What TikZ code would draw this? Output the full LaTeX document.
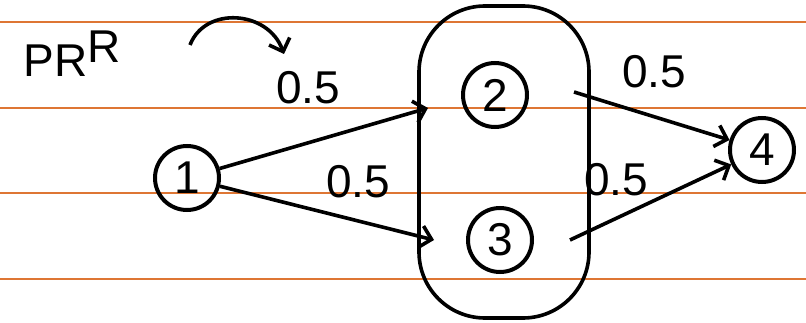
\documentclass[tikz,border=0pt]{standalone}
\usepackage{fontspec}
\setmainfont{Liberation Sans}
\usetikzlibrary{arrows.meta, shapes.geometric}

\definecolor{ruleline}{RGB}{222,118,52}

\tikzset{
  ruled/.style={draw=ruleline, line width=2pt},
  vtx/.style={draw, circle, line width=4pt, minimum size=64pt, inner sep=0pt,
              font=\fontsize{46}{50}\selectfont},
  grpbox/.style={draw, rectangle, rounded corners=66pt, line width=3.6pt,
                 minimum width=170pt, minimum height=312pt},
  wt/.style={font=\fontsize{46}{50}\selectfont},
  link/.style={-{Straight Barb[length=11pt, width=22pt]}, line width=3.6pt}
}

\begin{document}
\begin{tikzpicture}[x=1pt, y=-1pt]
  \useasboundingbox[fill=white] (0,0) rectangle (806,323);

  % ruled paper
  \foreach \yy in {22,108,193,279}
    \draw[ruled] (0,\yy) -- (806,\yy);

  \node[vtx] (n1) at (187,178) {1};
  \node[vtx] (n2) at (495,95) {2};
  \node[vtx] (n3) at (500,240) {3};
  \node[vtx] (n4) at (762,150) {4};
  \node[grpbox] (grp) at (504,162) {};

  % ports on the group outline
  \coordinate (in2) at (428,108);
  \coordinate (in3) at (434,240);
  \coordinate (out2) at (574,92);
  \coordinate (out3) at (570,240);

  \draw[link] (n1) -- (in2);
  \draw[link] (n1) -- (in3);
  \draw[link] (out2) -- (n4);
  \draw[link] (out3) -- (n4);

  \node[wt] (w12) at (308,88) {0.5};
  \node[wt] (w13) at (358,182) {0.5};
  \node[wt] (w24) at (654,72) {0.5};
  \node[wt] (w34) at (616,180) {0.5};

  \node[wt] (prr) at (72,54) {PR\raisebox{14pt}{R}};
  \coordinate (bend0) at (190,45);
  \coordinate (bend1) at (284,54);
  \draw[link] (bend0) .. controls (205,6) and (268,10) .. (bend1);
\end{tikzpicture}
\end{document}
